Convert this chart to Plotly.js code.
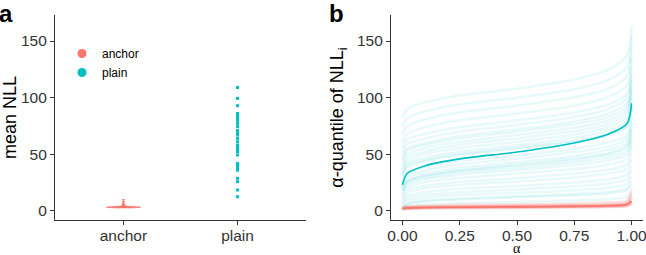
<!DOCTYPE html>
<html>
<head>
<meta charset="utf-8">
<script src="https://cdn.plot.ly/plotly-3.0.1.min.js"></script>
<style>html,body{margin:0;padding:0;background:#fff;}#chart{width:646px;height:255px;}</style>
</head>
<body>
<div id="chart"></div>
<script>
// ---------- data ----------
const groups = ['anchor', 'plain'];
const colors = { anchor: '#F8766D', plain: '#00BFC4' };

// panel a: mean NLL per model
const anchorMeans = [2.7, 2.9, 3.0, 3.0, 3.1, 3.1, 3.2, 3.2, 3.2, 3.3, 3.3, 3.3, 3.4, 3.4, 3.5, 3.5, 3.6, 3.7, 3.8, 4.0, 4.3, 4.8, 5.5, 6.5, 8.0, 10.0];
const plainMeans = [12.6, 18.5, 25.8, 28.8, 36, 38, 39, 40, 41, 42, 49.4, 52.3, 54, 55.3, 56, 56.7, 58, 61, 64, 67, 69, 70, 71, 74.4, 77.3, 80, 81.7, 84, 86, 92.9, 99.4, 109];

// panel b: alpha-quantiles of NLL_i
const alphas = [0, 0.02, 0.1, 0.25, 0.5, 0.75, 0.9, 0.98, 1];
const plainCurves = [
  [2.5, 4, 5.5, 6.8, 8, 9.2, 10.5, 12.5, 16],
  [4, 6.5, 8.5, 10.2, 12, 13.8, 15.5, 18.5, 24],
  [3, 6, 9, 11, 13, 15, 17, 20, 27],
  [6, 9, 11.5, 14, 16, 18.3, 20.5, 24, 31],
  [7, 11, 14, 16.5, 19, 21.7, 24.5, 28, 36],
  [9, 13, 16.5, 19.5, 22, 25, 28, 32, 40],
  [11, 16, 20, 23, 26, 29.5, 33, 37, 46],
  [13, 18.5, 22, 25.5, 29, 33, 36.5, 41, 51],
  [15, 21, 25.5, 29, 33, 37, 41, 46, 57],
  [17, 23, 28, 32, 36, 40.5, 45, 50, 62],
  [18, 25, 29.5, 34, 38, 43, 47.5, 53, 64],
  [20, 26.5, 31, 35.5, 40, 45, 50, 56, 68],
  [19, 26, 31.5, 36, 41, 46.5, 51, 58, 72],
  [22, 29, 33.5, 38, 43, 48.5, 54, 60, 74],
  [24, 31, 36, 41, 46, 52, 57, 64, 79],
  [26, 33.5, 39, 44, 49, 55, 60.5, 67, 82],
  [30, 38, 44, 49.5, 55, 61, 67, 74, 90],
  [32, 40, 45, 50.5, 56, 62, 68, 75, 92],
  [33, 41.5, 47, 52.5, 58, 64.5, 71, 79, 96],
  [36, 44, 50, 55.5, 61, 67.5, 74, 82, 100],
  [39, 47, 52.5, 58.5, 64, 70.5, 77, 86, 105],
  [42, 50, 55.5, 61, 67, 73.5, 80, 89, 108],
  [45, 53, 58.5, 64, 70, 76.5, 83, 92, 112],
  [47, 55, 60, 66, 72, 79, 86, 95, 116],
  [51, 59, 64, 70, 76, 83, 90, 100, 122],
  [55, 63, 68, 74, 80, 87, 94, 104, 127],
  [60, 68, 74, 80, 86, 93, 101, 111, 135],
  [67, 75, 81, 87, 93, 100.5, 108, 119, 145],
  [74, 82, 88, 94, 100, 107.5, 116, 127, 155],
  [82, 90, 96, 102, 108, 116, 125, 137, 163]
];
const plainMeanCurve = [23, 33, 40, 46, 52, 60, 68, 77, 95];
const anchorCurves = [
  [1.5, 2.0, 2.3, 2.6, 2.9, 3.2, 3.6, 4.3, 6],
  [1.8, 2.2, 2.6, 2.9, 3.2, 3.6, 4.0, 4.8, 7],
  [2.0, 2.5, 2.8, 3.1, 3.4, 3.8, 4.3, 5.2, 8],
  [2.2, 2.7, 3.0, 3.3, 3.7, 4.1, 4.6, 5.6, 9],
  [2.0, 2.6, 3.0, 3.4, 3.8, 4.3, 4.9, 6.0, 10],
  [2.5, 3.0, 3.4, 3.8, 4.2, 4.7, 5.3, 6.5, 11],
  [2.3, 2.9, 3.3, 3.7, 4.1, 4.6, 5.2, 6.4, 12],
  [2.8, 3.3, 3.7, 4.1, 4.5, 5.0, 5.7, 7.0, 14],
  [3.0, 3.6, 4.0, 4.5, 5.0, 5.6, 6.4, 8.0, 16],
  [1.2, 1.8, 2.1, 2.4, 2.7, 3.0, 3.4, 4.0, 6],
  [3.5, 4.2, 4.8, 5.4, 6.0, 6.8, 7.8, 9.5, 20]
];
const anchorMeanCurve = [2.0, 2.6, 3.0, 3.3, 3.6, 4.0, 4.6, 5.6, 8.5];

const yTicks = [0, 50, 100, 150];
const alphaTicks = [0, 0.25, 0.5, 0.75, 1];

// ---------- traces ----------
const traces = [];
traces.push({
  type: 'violin', x: anchorMeans.map(() => 'anchor'), y: anchorMeans,
  xaxis: 'x', yaxis: 'y', name: 'anchor', showlegend: false,
  fillcolor: colors.anchor, line: { color: colors.anchor, width: 0.8 },
  points: false, spanmode: 'hard', width: 0.3, scalemode: 'width', bandwidth: 0.35,
  box: { visible: false }, meanline: { visible: false }, hoverinfo: 'skip'
});
traces.push({
  type: 'scatter', mode: 'markers', x: plainMeans.map(() => 'plain'), y: plainMeans,
  xaxis: 'x', yaxis: 'y', name: 'plain', showlegend: false,
  marker: { color: colors.plain, size: 3, symbol: 'square' }
});
// legend entries
groups.forEach(g => traces.push({
  type: 'scatter', mode: 'markers', x: [null], y: [null], xaxis: 'x', yaxis: 'y',
  name: g, marker: { color: colors[g], size: 9 }, showlegend: true
}));

plainCurves.forEach(c => traces.push({
  type: 'scatter', mode: 'lines', x: alphas, y: c, xaxis: 'x2', yaxis: 'y2', showlegend: false,
  line: { color: 'rgba(0,191,196,0.09)', width: 2.5, shape: 'spline', smoothing: 0.8 }, hoverinfo: 'skip'
}));
anchorCurves.forEach(c => traces.push({
  type: 'scatter', mode: 'lines', x: alphas, y: c, xaxis: 'x2', yaxis: 'y2', showlegend: false,
  line: { color: 'rgba(248,118,109,0.16)', width: 2.5, shape: 'spline', smoothing: 0.8 }, hoverinfo: 'skip'
}));
traces.push({
  type: 'scatter', mode: 'lines', x: alphas, y: anchorMeanCurve, xaxis: 'x2', yaxis: 'y2', showlegend: false,
  line: { color: colors.anchor, width: 1.6, shape: 'spline', smoothing: 0.8 }
});
traces.push({
  type: 'scatter', mode: 'lines', x: alphas, y: plainMeanCurve, xaxis: 'x2', yaxis: 'y2', showlegend: false,
  line: { color: colors.plain, width: 1.6, shape: 'spline', smoothing: 0.8 }
});

// ---------- layout ----------
const tickFont = { family: 'Liberation Sans, Arial, sans-serif', size: 15.5, color: '#333333' };
const titleFont = { family: 'Liberation Sans, Arial, sans-serif', size: 18, color: '#000000' };
const axisCommon = {
  showgrid: false, zeroline: false, showline: true, linecolor: '#333333', linewidth: 1.1,
  ticks: 'outside', ticklen: 4, tickcolor: '#333333', tickwidth: 1, tickfont: tickFont,
  ticklabeloverflow: 'allow'
};
const yDomain = [1 - 220 / 255, 1 - 15 / 255];

const layout = {
  width: 646, height: 255, margin: { l: 0, r: 0, t: 0, b: 0 },
  paper_bgcolor: '#ffffff', plot_bgcolor: '#ffffff', showlegend: true,
  font: { family: 'Liberation Sans, Arial, sans-serif' },
  xaxis: Object.assign({}, axisCommon, {
    domain: [55 / 646, 306 / 646], type: 'category', categoryarray: groups, range: [-0.6, 1.6],
    anchor: 'y', ticklabelstandoff: -3
  }),
  yaxis: Object.assign({}, axisCommon, {
    domain: yDomain, range: [-8, 173], tickvals: yTicks, anchor: 'x',
    title: { text: 'mean NLL', font: titleFont, standoff: 8 }
  }),
  xaxis2: Object.assign({}, axisCommon, {
    domain: [391 / 646, 643 / 646], range: [-0.05, 1.05], tickvals: alphaTicks, tickformat: '.2f',
    anchor: 'y2', ticklabelstandoff: -3
  }),
  yaxis2: Object.assign({}, axisCommon, {
    domain: yDomain, range: [-8, 173], tickvals: yTicks, anchor: 'x2',
    title: { text: 'α-quantile of NLL<sub>i</sub>', font: titleFont, standoff: 8 }
  }),
  legend: {
    x: 62 / 646, y: 1 - 39 / 255, xanchor: 'left', yanchor: 'top', bgcolor: 'rgba(0,0,0,0)',
    font: { family: 'Liberation Sans, Arial, sans-serif', size: 12, color: '#000' }
  },
  annotations: [
    { text: '<b>a</b>', xref: 'paper', yref: 'paper', x: 0, y: 1, xanchor: 'left', yanchor: 'top',
      showarrow: false, font: { size: 24, color: '#000', family: 'Liberation Sans, Arial, sans-serif' }, xshift: -3, yshift: 2 },
    { text: '<b>b</b>', xref: 'paper', yref: 'paper', x: 330 / 646, y: 1, xanchor: 'left', yanchor: 'top',
      showarrow: false, font: { size: 24, color: '#000', family: 'Liberation Sans, Arial, sans-serif' }, xshift: -3, yshift: 2 },
    { text: 'α', xref: 'paper', yref: 'paper', x: 517 / 646, y: 0, xanchor: 'center', yanchor: 'bottom',
      showarrow: false, font: { size: 14, color: '#000', family: 'Liberation Serif, serif' }, yshift: -3 }
  ]
};

Plotly.newPlot('chart', traces, layout, { displayModeBar: false, staticPlot: true });
</script>
</body>
</html>
